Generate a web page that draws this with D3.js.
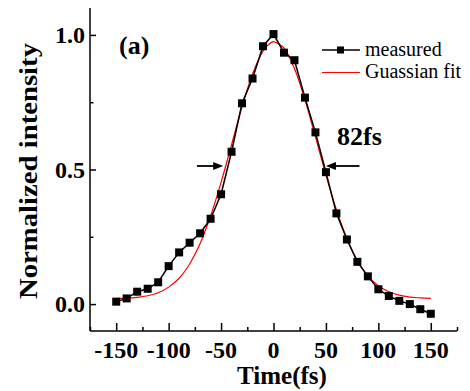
<!DOCTYPE html>
<html>
<head>
<meta charset="utf-8">
<script src="https://cdn.jsdelivr.net/npm/d3@7"></script>
<style>
  html, body { margin: 0; padding: 0; background: #fff; }
  svg { display: block; font-family: "Liberation Serif", "Times New Roman", serif; }
</style>
</head>
<body>
<svg id="chart" width="470" height="391"></svg>
<script>
// ---- data ----
const measuredTime = [-150,-140,-130,-120,-110,-100,-90,-80,-70,-60,-50,-40,-30,-20,-10,0,10,20,30,40,50,60,70,80,90,100,110,120,130,140,150];
const measuredValue = [0.009,0.021,0.046,0.057,0.081,0.141,0.192,0.228,0.263,0.317,0.408,0.566,0.746,0.838,0.958,1.003,0.934,0.906,0.767,0.638,0.490,0.337,0.240,0.157,0.103,0.055,0.030,0.012,0.000,-0.019,-0.036];
const fitTime = [-150,-140,-130,-120,-110,-100,-90,-80,-70,-60,-50,-40,-30,-20,-10,-5,0,5,10,20,30,40,50,60,70,80,90,100,110,120,130,140,150];
const fitValue = [0.021,0.022,0.025,0.031,0.042,0.063,0.096,0.149,0.225,0.327,0.452,0.592,0.733,0.855,0.940,0.963,0.975,0.966,0.952,0.875,0.759,0.621,0.479,0.351,0.244,0.162,0.105,0.068,0.046,0.033,0.026,0.023,0.021];
const xTicks = [-150,-100,-50,0,50,100,150];
const yTicks = [0.0,0.5,1.0];
const legendLabels = ["measured","Guassian fit"];
const fwhmLabel = "82fs";
const panelLabel = "(a)";
const xTitle = "Time(fs)";
const yTitle = "Normalized intensity";

// ---- layout ----
const svg = d3.select("#chart");
const x = d3.scaleLinear().domain([-175,175]).range([90,457]);
const y = d3.scaleLinear().domain([-0.1,1.1]).range([331,8]);

const font = '"Liberation Serif", "Times New Roman", serif';

// axes
const xAxis = svg.append("g").attr("transform","translate(0,331)");
xAxis.call(d3.axisTop(x).tickValues(d3.range(-175,176,25)).tickSize(0).tickFormat(""));
xAxis.select(".domain").remove();
xAxis.selectAll(".tick line").remove();
xAxis.selectAll(".tick").each(function(d){
  const major = xTicks.includes(d);
  d3.select(this).append("line").attr("y1",0).attr("y2", major ? -8 : -4).attr("stroke","#000").attr("stroke-width",1.5);
});
svg.append("line").attr("x1",x(-175)).attr("x2",x(175)).attr("y1",331).attr("y2",331).attr("stroke","#000").attr("stroke-width",1.5);

const yAxis = svg.append("g").attr("transform","translate(90,0)");
yAxis.call(d3.axisRight(y).tickValues(d3.range(0,1.01,0.25)).tickSize(0).tickFormat(""));
yAxis.select(".domain").remove();
yAxis.selectAll(".tick line").remove();
yAxis.selectAll(".tick").each(function(d){
  const major = yTicks.some(v => Math.abs(v-d) < 1e-9);
  d3.select(this).append("line").attr("x1",0).attr("x2", major ? 6 : 3.5).attr("stroke","#000").attr("stroke-width",1.5);
});
svg.append("line").attr("x1",90).attr("x2",90).attr("y1",y(1.1)).attr("y2",331).attr("stroke","#000").attr("stroke-width",1.5);

// tick labels
svg.append("g").selectAll("text").data(xTicks).join("text")
  .attr("x", d => x(d)).attr("y", 358)
  .attr("text-anchor","middle")
  .attr("font-family", font).attr("font-weight","bold").attr("font-size", 24)
  .text(d => d);
svg.append("g").selectAll("text").data(yTicks).join("text")
  .attr("x", 85).attr("y", d => y(d) + 8)
  .attr("text-anchor","end")
  .attr("font-family", font).attr("font-weight","bold").attr("font-size", 24)
  .text(d => d.toFixed(1));

// axis titles
svg.append("text").attr("x", 282).attr("y", 384).attr("text-anchor","middle")
  .attr("font-family", font).attr("font-weight","bold").attr("font-size", 25)
  .text(xTitle);
svg.append("text").attr("transform","translate(37,171) rotate(-90)").attr("text-anchor","middle")
  .attr("font-family", font).attr("font-weight","bold").attr("font-size", 25)
  .attr("textLength", 256).attr("lengthAdjust", "spacingAndGlyphs")
  .text(yTitle);

// fit curve
const fitData = fitTime.map((t,i) => [t, fitValue[i]]);
svg.append("path").datum(fitData)
  .attr("fill","none").attr("stroke","#ff0000").attr("stroke-width",1.2)
  .attr("d", d3.line().x(d => x(d[0])).y(d => y(d[1])).curve(d3.curveCatmullRom));

// measured
const mData = measuredTime.map((t,i) => [t, measuredValue[i]]);
svg.append("path").datum(mData)
  .attr("fill","none").attr("stroke","#000").attr("stroke-width",1.5)
  .attr("d", d3.line().x(d => x(d[0])).y(d => y(d[1])));
svg.append("g").selectAll("rect").data(mData).join("rect")
  .attr("x", d => x(d[0]) - 4).attr("y", d => y(d[1]) - 4)
  .attr("width", 8).attr("height", 8).attr("fill","#000");

// arrows (FWHM markers)
const arrowY = 0.513;
function arrow(x0, x1){
  const px0 = x(x0), px1 = x(x1), py = y(arrowY);
  const dir = Math.sign(px1 - px0);
  svg.append("line").attr("x1",px0).attr("x2",px1 - dir*7).attr("y1",py).attr("y2",py).attr("stroke","#000").attr("stroke-width",1.8);
  svg.append("path").attr("d", `M${px1},${py} L${px1-dir*10},${py-4} L${px1-dir*10},${py+4} Z`).attr("fill","#000");
}
arrow(-73, -48);
arrow(82, 50);

svg.append("text").attr("x", 337).attr("y", 145)
  .attr("font-family", font).attr("font-weight","bold").attr("font-size", 26)
  .text(fwhmLabel);
svg.append("text").attr("x", 119).attr("y", 54)
  .attr("font-family", font).attr("font-weight","bold").attr("font-size", 26)
  .text(panelLabel);

// legend
const lg = svg.append("g");
lg.append("line").attr("x1",322).attr("x2",360).attr("y1",50).attr("y2",50).attr("stroke","#000").attr("stroke-width",1.5);
lg.append("rect").attr("x",337).attr("y",46.5).attr("width",7).attr("height",7).attr("fill","#000");
lg.append("text").attr("x",365).attr("y",56).attr("font-family",font).attr("font-size",20).text(legendLabels[0]);
lg.append("line").attr("x1",322).attr("x2",360).attr("y1",72.5).attr("y2",72.5).attr("stroke","#ff0000").attr("stroke-width",1.2);
lg.append("text").attr("x",365).attr("y",78).attr("font-family",font).attr("font-size",20).text(legendLabels[1]);
</script>
</body>
</html>
